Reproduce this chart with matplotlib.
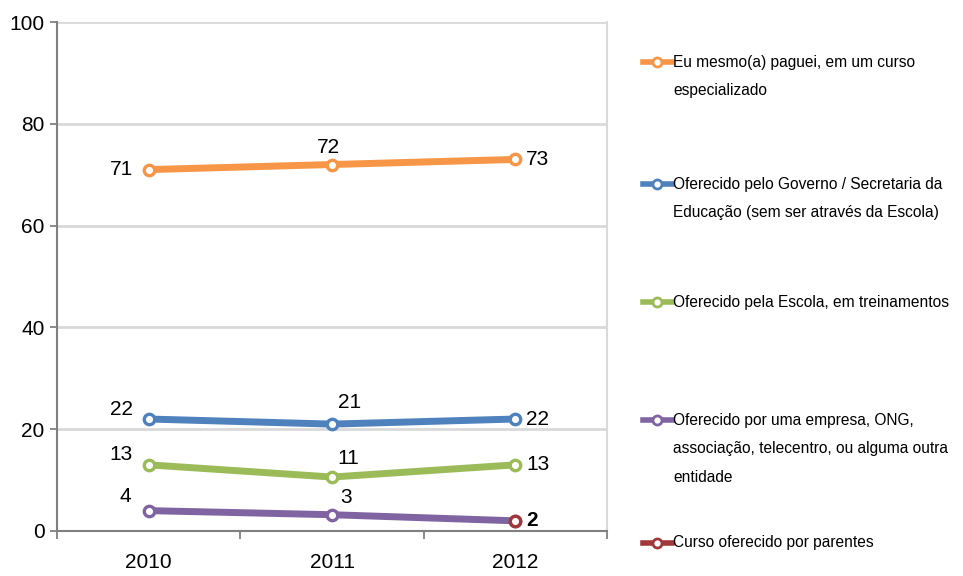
import matplotlib
matplotlib.use("Agg")
import matplotlib.pyplot as plt
from matplotlib.lines import Line2D

plt.rcParams["font.family"] = ["Liberation Sans", "DejaVu Sans"]

years = ["2010", "2011", "2012"]

proprio = [71, 72, 73]
governo = [22, 21, 22]
escola = [13, 10.6, 13]
empresa = [4, 3.2, 2]
parentes = [2]  # only 2012

labels = [
    "Eu mesmo(a) paguei, em um curso\nespecializado",
    "Oferecido pelo Governo / Secretaria da\nEducação (sem ser através da Escola)",
    "Oferecido pela Escola, em treinamentos",
    "Oferecido por uma empresa, ONG,\nassociação, telecentro, ou alguma outra\nentidade",
    "Curso oferecido por parentes",
]
colors = ["#f79646", "#4f81bd", "#9bbb59", "#8064a2", "#a0383a"]

W, H = 963, 576
fig = plt.figure(figsize=(W / 100, H / 100), dpi=100)
ax = fig.add_axes([57 / W, 1 - 531 / H, 550 / W, 509 / H])

x = list(range(len(years)))
series = [(x, proprio), (x, governo), (x, escola), (x, empresa), ([2], parentes)]
for (xs, ys), c in zip(series, colors):
    ax.plot(xs, ys, color=c, lw=5, marker="o", ms=7.5, mfc="white", mec=c, mew=2.4,
            solid_capstyle="butt", zorder=3)

fs = 15
px = 0.72  # points per pixel


def lab(xi, yi, txt, dx, dy, ha="center", bold=False):
    ax.annotate(txt, (xi, yi), xytext=(dx * px, dy * px), textcoords="offset points",
                ha=ha, va="center", fontsize=fs, fontweight="bold" if bold else "normal")


lab(0, proprio[0], "71", -16, 0, "right")
lab(1, proprio[1], "72", -4, 17)
lab(2, proprio[2], "73", 11, 0, "left")
lab(0, governo[0], "22", -16, 10, "right")
lab(1, governo[1], "21", 18, 22)
lab(2, governo[2], "22", 11, 0, "left")
lab(0, escola[0], "13", -16, 10, "right")
lab(1, escola[1], "11", 16, 19)
lab(2, escola[2], "13", 11, 0, "left")
lab(0, empresa[0], "4", -18, 14, "right")
lab(1, empresa[1], "3", 14, 17)
lab(2, empresa[2], "2", 11, 0, "left", bold=True)

ax.set_xlim(-0.5, 2.5)
ax.set_ylim(0, 100)
ax.set_yticks(range(0, 101, 20))
ax.set_xticks(x)
ax.set_xticklabels(years)
ax.set_xticks([-0.5, 0.5, 1.5, 2.5], minor=True)
ax.tick_params(axis="x", which="major", length=0, pad=15.5, labelsize=fs)
ax.tick_params(axis="x", which="minor", length=6, color="#808080", width=1.3)
ax.tick_params(axis="y", length=5, color="#808080", width=1.3, labelsize=fs, pad=4)

for y in range(20, 101, 20):
    ax.axhline(y, color="#d9d9d9", lw=2, zorder=1)
ax.spines["top"].set_visible(False)
ax.spines["right"].set_color("#d9d9d9")
ax.spines["right"].set_linewidth(1.5)
for s in ["left", "bottom"]:
    ax.spines[s].set_color("#808080")
    ax.spines[s].set_linewidth(1.5)

# legend drawn by hand to keep the original spacing
leg_y = [62, 184, 302, 420, 543]
line_gap = 28.5
for yy, txt, c in zip(leg_y, labels, colors):
    fy = 1 - yy / H
    fig.add_artist(Line2D([643 / W, 672 / W], [fy, fy], color=c, lw=4))
    fig.add_artist(Line2D([657 / W], [fy], color=c, marker="o", ms=6.5,
                          mfc="white", mec=c, mew=2))
    for i, line in enumerate(txt.split("\n")):
        fig.text(673 / W, 1 - (yy + i * line_gap) / H, line, ha="left", va="center",
                 fontsize=11.2)

fig.savefig("out.png", dpi=100)
